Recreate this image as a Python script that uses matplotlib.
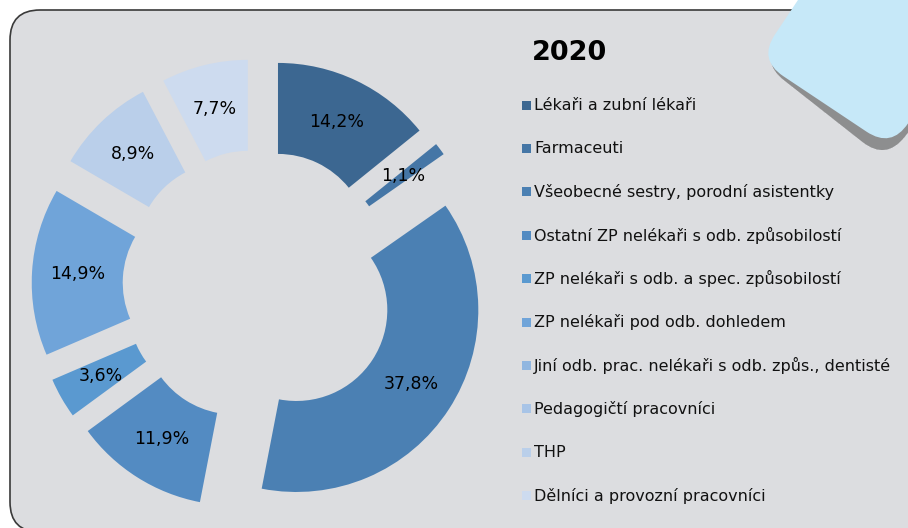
import matplotlib.pyplot as plt
import numpy as np
from matplotlib.patches import FancyBboxPatch, Rectangle
from matplotlib.transforms import Affine2D

plt.rcParams['font.family'] = ['DejaVu Sans']

title = "2020"
categories = [
    "Lékaři a zubní lékaři",
    "Farmaceuti",
    "Všeobecné sestry, porodní asistentky",
    "Ostatní ZP nelékaři s odb. způsobilostí",
    "ZP nelékaři s odb. a spec. způsobilostí",
    "ZP nelékaři pod odb. dohledem",
    "Jiní odb. prac. nelékaři s odb. způs., dentisté",
    "Pedagogičtí pracovníci",
    "THP",
    "Dělníci a provozní pracovníci",
]
shares = [14.2, 1.1, 37.8, 11.9, 3.6, 14.9, 0.0, 0.0, 8.9, 7.7]
colors = ["#3c6791", "#4576a6", "#4b80b3", "#538bc2", "#5a99d0",
          "#70a4d9", "#90b6e0", "#a8c4e7", "#bacfea", "#cddbef"]

W, H = 908, 528
fig = plt.figure(figsize=(W / 100, H / 100), dpi=100)
fig.patch.set_facecolor("white")

# background panel in pixel coordinates
bg = fig.add_axes([0, 0, 1, 1])
bg.set_xlim(0, W)
bg.set_ylim(H, 0)
bg.axis("off")
panel = FancyBboxPatch((10, 10), 980, 522, boxstyle="round,pad=0,rounding_size=30",
                       facecolor="#dcdde0", edgecolor="#3a3a3a", linewidth=1.2)
bg.add_patch(panel)

# blue corner sticker with soft shadow that widens to the right
S, rs, rot = 160, 30, 33.7
px, py = 758.3, 59.5
for pad in np.arange(0, 11, 1.0):
    sh = FancyBboxPatch((pad, -S + pad), S - 2 * pad, S - 2 * pad,
                        boxstyle=f"round,pad={pad},rounding_size={rs}",
                        facecolor="#3a3a3a", edgecolor="none", alpha=0.055,
                        transform=Affine2D().rotate_deg(rot + 4.5).translate(px + 2, py + 2) + bg.transData)
    bg.add_patch(sh)
sticker = FancyBboxPatch((0, -S), S, S, boxstyle=f"round,pad=0,rounding_size={rs}",
                         facecolor="#c6e8f8", edgecolor="none",
                         transform=Affine2D().rotate_deg(rot).translate(px, py) + bg.transData)
bg.add_patch(sticker)

# donut
cx, cy, R, half = 258.6, 285.5, 182.0, 250.0
ax = fig.add_axes([(cx - half) / W, (H - cy - half) / H, 2 * half / W, 2 * half / H])
wedges, _ = ax.pie(shares, explode=[0.247] * len(shares), startangle=90, counterclock=False,
                   colors=colors, radius=1,
                   wedgeprops=dict(width=0.5, edgecolor="none", linewidth=0))
ax.set_xlim(-half / R, half / R)
ax.set_ylim(-half / R, half / R)
ax.set_aspect("equal")
ax.axis("off")
for w, v in zip(wedges, shares):
    if v <= 0:
        continue
    th = np.deg2rad((w.theta1 + w.theta2) / 2)
    x0, y0 = w.center
    ax.text(x0 + 0.75 * np.cos(th), y0 + 0.75 * np.sin(th),
            f"{v:.1f}%".replace(".", ","), ha="center", va="center",
            fontsize=12.5, color="black")

# title and legend
bg.text(569, 53, title, ha="center", va="center", fontsize=19.5, fontweight="bold")
for i, (name, col) in enumerate(zip(categories, colors)):
    y = 105 + i * 43.4
    bg.add_patch(Rectangle((522, y - 4.5), 9, 9, facecolor=col, edgecolor="none"))
    bg.text(534, y, name, ha="left", va="center", fontsize=11.5, color="#111111")

fig.savefig("out.png", dpi=100)
